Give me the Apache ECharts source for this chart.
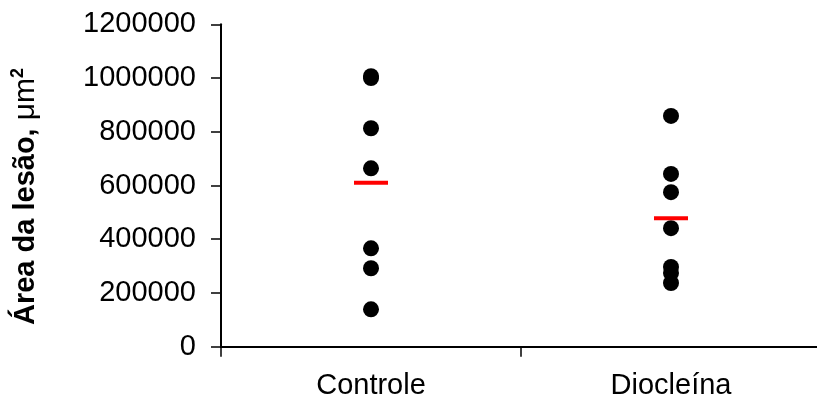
<!DOCTYPE html>
<html>
<head>
<meta charset="utf-8">
<script src="https://cdn.jsdelivr.net/npm/echarts@6/dist/echarts.min.js"></script>
<style>html,body{margin:0;padding:0;background:#fff;overflow:hidden;width:817px;height:404px;}#c{width:823px;height:404px;}</style>
</head>
<body>
<div id="c"></div>
<script>
var categories = ['Controle', 'Diocleína'];
var controleValues = [1007000, 1000000, 813000, 664000, 366000, 292000, 139000];
var diocleinaValues = [859000, 643000, 575000, 441000, 297000, 274000, 237000];
var meanValues = [610000, 478000];
var yTicks = [0, 200000, 400000, 600000, 800000, 1000000, 1200000];

var chart = echarts.init(document.getElementById('c'));
var font = 'Liberation Sans, Arial, sans-serif';
function pts(idx, arr) { return arr.map(function (v) { return [idx, v]; }); }

chart.setOption({
  animation: false,
  grid: { left: 221, top: 24.3, bottom: 57.3, right: 2, containLabel: false },
  xAxis: {
    type: 'category',
    data: categories,
    boundaryGap: true,
    axisLine: { lineStyle: { color: '#000', width: 2 } },
    axisTick: { show: true, length: 10, inside: false, alignWithLabel: false, lineStyle: { color: '#000', width: 1.5 } },
    axisLabel: { color: '#000', fontSize: 29, fontFamily: font, margin: 25 },
    splitLine: { show: false }
  },
  yAxis: {
    type: 'value',
    min: yTicks[0],
    max: yTicks[yTicks.length - 1],
    interval: yTicks[1] - yTicks[0],
    axisLine: { show: true, lineStyle: { color: '#000', width: 2 } },
    axisTick: { show: true, length: 10, inside: false, lineStyle: { color: '#000', width: 1.5 } },
    axisLabel: { color: '#000', fontSize: 29, fontFamily: font, margin: 25, formatter: function (v) { return String(v); } },
    splitLine: { show: false },
    name: '{b|Área da lesão, }{n|μm}{s|2}',
    nameLocation: 'middle',
    nameGap: 178,
    nameRotate: 90,
    nameTextStyle: {
      color: '#000',
      fontFamily: font,
      fontSize: 29,
      padding: [0, 22, 0, 0],
      rich: {
        b: { fontWeight: 'bold', fontSize: 29, fontFamily: font, color: '#000', lineHeight: 34 },
        n: { fontWeight: 'normal', fontSize: 30, fontFamily: font, color: '#000', lineHeight: 34 },
        s: { fontWeight: 'bold', fontSize: 18, fontFamily: font, color: '#000', verticalAlign: 'top', lineHeight: 34 }
      }
    }
  },
  series: [
    { type: 'scatter', data: pts(0, controleValues), symbol: 'circle', symbolSize: 16, itemStyle: { color: '#000', opacity: 1 }, z: 2 },
    { type: 'scatter', data: pts(1, diocleinaValues), symbol: 'circle', symbolSize: 16, itemStyle: { color: '#000', opacity: 1 }, z: 2 },
    { type: 'scatter', data: meanValues.map(function (v, i) { return [i, v]; }), symbol: 'rect', symbolSize: [34, 4], itemStyle: { color: '#ff0000', opacity: 1 }, z: 3 }
  ]
});
</script>
</body>
</html>
